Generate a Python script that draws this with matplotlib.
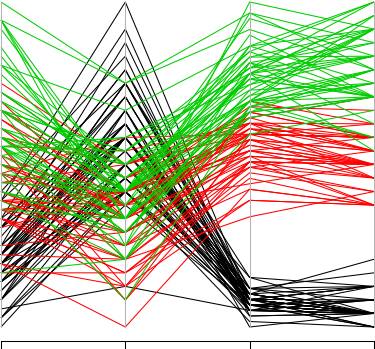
import matplotlib
matplotlib.use("Agg")
import matplotlib.pyplot as plt
import numpy as np

# Iris measurements (Fisher/Anderson), in row order
sepal_length = [5.1,4.9,4.7,4.6,5.0,5.4,4.6,5.0,4.4,4.9,5.4,4.8,4.8,4.3,5.8,5.7,5.4,5.1,5.7,5.1,
                5.4,5.1,4.6,5.1,4.8,5.0,5.0,5.2,5.2,4.7,4.8,5.4,5.2,5.5,4.9,5.0,5.5,4.9,4.4,5.1,
                5.0,4.5,4.4,5.0,5.1,4.8,5.1,4.6,5.3,5.0,
                7.0,6.4,6.9,5.5,6.5,5.7,6.3,4.9,6.6,5.2,5.0,5.9,6.0,6.1,5.6,6.7,5.6,5.8,6.2,5.6,
                5.9,6.1,6.3,6.1,6.4,6.6,6.8,6.7,6.0,5.7,5.5,5.5,5.8,6.0,5.4,6.0,6.7,6.3,5.6,5.5,
                5.5,6.1,5.8,5.0,5.6,5.7,5.7,6.2,5.1,5.7,
                6.3,5.8,7.1,6.3,6.5,7.6,4.9,7.3,6.7,7.2,6.5,6.4,6.8,5.7,5.8,6.4,6.5,7.7,7.7,6.0,
                6.9,5.6,7.7,6.3,6.7,7.2,6.2,6.1,6.4,7.2,7.4,7.9,6.4,6.3,6.1,7.7,6.3,6.4,6.0,6.9,
                6.7,6.9,5.8,6.8,6.7,6.7,6.3,6.5,6.2,5.9]
sepal_width = [3.5,3.0,3.2,3.1,3.6,3.9,3.4,3.4,2.9,3.1,3.7,3.4,3.0,3.0,4.0,4.4,3.9,3.5,3.8,3.8,
               3.4,3.7,3.6,3.3,3.4,3.0,3.4,3.5,3.4,3.2,3.1,3.4,4.1,4.2,3.1,3.2,3.5,3.6,3.0,3.4,
               3.5,2.3,3.2,3.5,3.8,3.0,3.8,3.2,3.7,3.3,
               3.2,3.2,3.1,2.3,2.8,2.8,3.3,2.4,2.9,2.7,2.0,3.0,2.2,2.9,2.9,3.1,3.0,2.7,2.2,2.5,
               3.2,2.8,2.5,2.8,2.9,3.0,2.8,3.0,2.9,2.6,2.4,2.4,2.7,2.7,3.0,3.4,3.1,2.3,3.0,2.5,
               2.6,3.0,2.6,2.3,2.7,3.0,2.9,2.9,2.5,2.8,
               3.3,2.7,3.0,2.9,3.0,3.0,2.5,2.9,2.5,3.6,3.2,2.7,3.0,2.5,2.8,3.2,3.0,3.8,2.6,2.2,
               3.2,2.8,2.8,2.7,3.3,3.2,2.8,3.0,2.8,3.0,2.8,3.8,2.8,2.8,2.6,3.0,3.4,3.1,3.0,3.1,
               3.1,3.1,2.7,3.2,3.3,3.0,2.5,3.0,3.4,3.0]
petal_length = [1.4,1.4,1.3,1.5,1.4,1.7,1.4,1.5,1.4,1.5,1.5,1.6,1.4,1.1,1.2,1.5,1.3,1.4,1.7,1.5,
                1.7,1.5,1.0,1.7,1.9,1.6,1.6,1.5,1.4,1.6,1.6,1.5,1.5,1.4,1.5,1.2,1.3,1.4,1.3,1.5,
                1.3,1.3,1.3,1.6,1.9,1.4,1.6,1.4,1.5,1.4,
                4.7,4.5,4.9,4.0,4.6,4.5,4.7,3.3,4.6,3.9,3.5,4.2,4.0,4.7,3.6,4.4,4.5,4.1,4.5,3.9,
                4.8,4.0,4.9,4.7,4.3,4.4,4.8,5.0,4.5,3.5,3.8,3.7,3.9,5.1,4.5,4.5,4.7,4.4,4.1,4.0,
                4.4,4.6,4.0,3.3,4.2,4.2,4.2,4.3,3.0,4.1,
                6.0,5.1,5.9,5.6,5.8,6.6,4.5,6.3,5.8,6.1,5.1,5.3,5.5,5.0,5.1,5.3,5.5,6.7,6.9,5.0,
                5.7,4.9,6.7,4.9,5.7,6.0,4.8,4.9,5.6,5.8,6.1,6.4,5.6,5.1,5.6,6.1,5.6,5.5,4.8,5.4,
                5.6,5.1,5.1,5.9,5.7,5.2,5.0,5.2,5.4,5.1]
petal_width = [0.2,0.2,0.2,0.2,0.2,0.4,0.3,0.2,0.2,0.1,0.2,0.2,0.1,0.1,0.2,0.4,0.4,0.3,0.3,0.3,
               0.2,0.4,0.2,0.5,0.2,0.2,0.4,0.2,0.2,0.2,0.2,0.4,0.1,0.2,0.2,0.2,0.2,0.1,0.2,0.2,
               0.3,0.3,0.2,0.6,0.4,0.3,0.2,0.2,0.2,0.2,
               1.4,1.5,1.5,1.3,1.5,1.3,1.6,1.0,1.3,1.4,1.0,1.5,1.0,1.4,1.3,1.4,1.5,1.0,1.5,1.1,
               1.8,1.3,1.5,1.2,1.3,1.4,1.4,1.7,1.5,1.0,1.1,1.0,1.2,1.6,1.5,1.6,1.5,1.3,1.3,1.3,
               1.2,1.4,1.2,1.0,1.3,1.2,1.3,1.3,1.1,1.3,
               2.5,1.9,2.1,1.8,2.2,2.1,1.7,1.8,1.8,2.5,2.0,1.9,2.1,2.0,2.4,2.3,1.8,2.2,2.3,1.5,
               2.3,2.0,2.0,1.8,2.1,1.8,1.8,1.8,2.1,1.6,1.9,2.0,2.2,1.5,1.4,2.3,2.4,1.8,1.8,2.1,
               2.4,2.3,1.9,2.3,2.5,2.3,1.9,2.0,2.3,1.8]
species = ["setosa"] * 50 + ["versicolor"] * 50 + ["virginica"] * 50
species_colors = {"setosa": "#000000", "versicolor": "#FF0000", "virginica": "#00CD00"}

# Scale each variable to [0, 1] by its own range
data = np.column_stack([sepal_length, sepal_width, petal_length, petal_width])
scaled = (data - data.min(axis=0)) / (data.max(axis=0) - data.min(axis=0))
positions = np.arange(data.shape[1])

W, H = 375, 349
fig = plt.figure(figsize=(W / 100, H / 100), dpi=100)
ax = fig.add_axes([0, 0, 1, 1])

# pixel layout: x axes at px 1..374, y data 1 at px 2, 0 at px 327
px_per_x = 373 / 3
x0 = -1 / px_per_x
x1 = 3 + 1 / px_per_x
ax.set_xlim(x0, x1)
y_bottom = -(H - 327) / 325
y_top = 1 + 2 / 325
ax.set_ylim(y_bottom, y_top)
ax.axis("off")

for row, sp in zip(scaled, species):
    ax.plot(positions, row, color=species_colors[sp], lw=0.75, solid_capstyle="butt")

# vertical grey axes
for p in positions:
    ax.plot([p, p], [0, 1], color="#B3B3B3", lw=0.75)

# bottom axis with ticks
axis_y = -(341 - 327) / 325
ax.plot([positions[0], positions[-1]], [axis_y, axis_y], color="black", lw=0.75,
        solid_capstyle="projecting")
for p in positions:
    ax.plot([p, p], [axis_y, y_bottom], color="black", lw=0.75)

fig.savefig("out.png", dpi=100)
